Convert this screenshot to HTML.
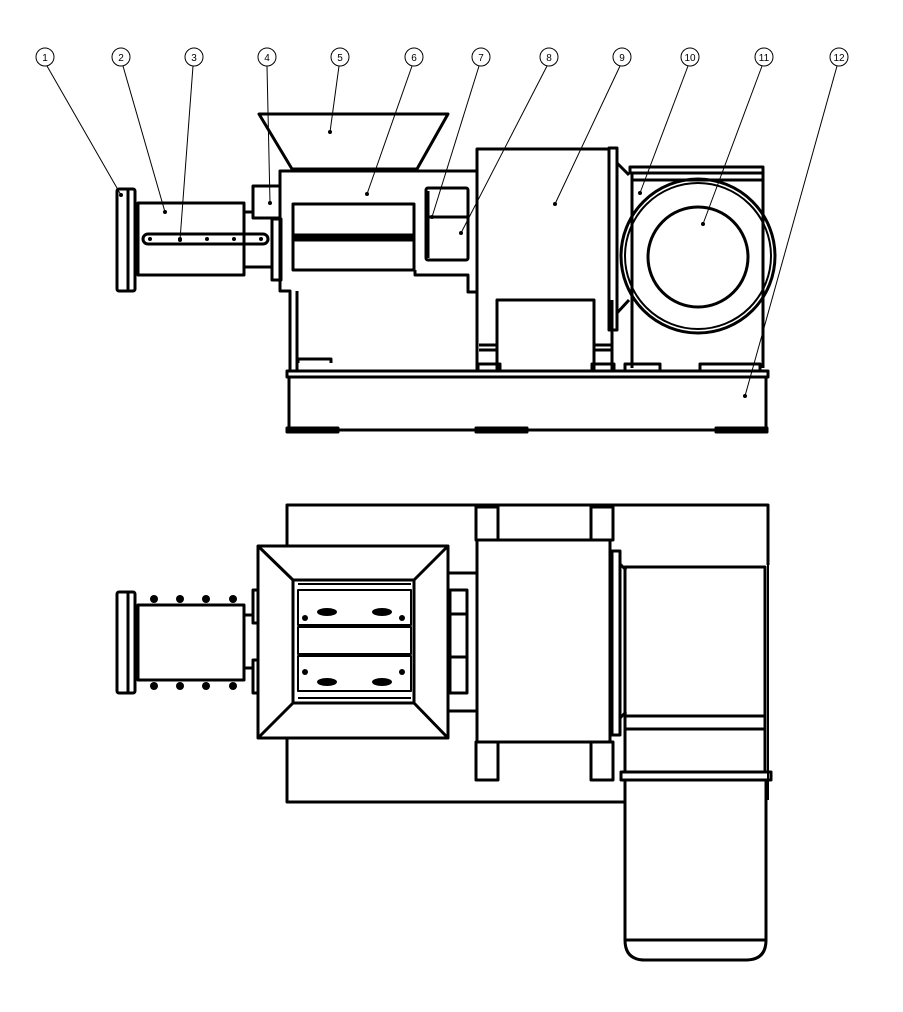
<!DOCTYPE html>
<html><head><meta charset="utf-8"><style>
html,body{margin:0;padding:0;background:#fff;}
svg{display:block;}
text{font-family:"Liberation Sans",sans-serif;font-size:10px;text-anchor:middle;}
</style></head><body>
<svg width="903" height="1012" viewBox="0 0 903 1012" xmlns="http://www.w3.org/2000/svg">
<rect width="903" height="1012" fill="#fff"/>
<g fill="none" stroke="#000" stroke-width="1">
<circle cx="45" cy="57" r="9"/><circle cx="121" cy="57" r="9"/><circle cx="194" cy="57" r="9"/>
<circle cx="267" cy="57" r="9"/><circle cx="340" cy="57" r="9"/><circle cx="414" cy="57" r="9"/>
<circle cx="481" cy="57" r="9"/><circle cx="549" cy="57" r="9"/><circle cx="622" cy="57" r="9"/>
<circle cx="690" cy="57" r="9"/><circle cx="764" cy="57" r="9"/><circle cx="839" cy="57" r="9"/>
<line x1="47" y1="66" x2="121" y2="195"/>
<line x1="123" y1="66" x2="165" y2="212"/>
<line x1="193" y1="66" x2="180" y2="240"/>
<line x1="267" y1="66" x2="270" y2="203"/>
<line x1="339" y1="66" x2="330" y2="132"/>
<line x1="412" y1="66" x2="367" y2="194"/>
<line x1="479" y1="66" x2="432" y2="217"/>
<line x1="547" y1="66" x2="461" y2="233"/>
<line x1="620" y1="66" x2="555" y2="204"/>
<line x1="688" y1="66" x2="640" y2="193"/>
<line x1="762" y1="66" x2="703" y2="224"/>
<line x1="837" y1="66" x2="745" y2="396"/>
</g>
<g fill="#000">
<text x="45" y="61">1</text><text x="121" y="61">2</text><text x="194" y="61">3</text>
<text x="267" y="61">4</text><text x="340" y="61">5</text><text x="414" y="61">6</text>
<text x="481" y="61">7</text><text x="549" y="61">8</text><text x="622" y="61">9</text>
<text x="690" y="61">10</text><text x="764" y="61">11</text><text x="839" y="61">12</text>
<circle cx="121" cy="195" r="2"/><circle cx="165" cy="212" r="2"/><circle cx="180" cy="240" r="2"/>
<circle cx="270" cy="203" r="2"/><circle cx="330" cy="132" r="2"/><circle cx="367" cy="194" r="2"/>
<circle cx="432" cy="217" r="2"/><circle cx="461" cy="233" r="2"/><circle cx="555" cy="204" r="2"/>
<circle cx="640" cy="193" r="2"/><circle cx="703" cy="224" r="2"/><circle cx="745" cy="396" r="2"/>
</g>
<g fill="none" stroke="#000" stroke-width="3" stroke-linejoin="round">
<!-- FRONT VIEW -->
<polygon points="259,114 448,114 417,169 292,169"/>
<path d="M477,171 H280 V291 H290 V371"/>
<line x1="297" y1="291" x2="297" y2="371"/>
<path d="M298,363 V359 H331 V363"/>
<rect x="293" y="204" width="121" height="66"/>
<rect x="293" y="235" width="121" height="5" fill="#000"/>
<path d="M415,270 V275 H468 V292 H477 V371"/>
<rect x="426" y="188" width="42" height="72" rx="2"/>
<line x1="428" y1="217" x2="468" y2="217"/>
<line x1="428" y1="191" x2="428" y2="258"/>
<rect x="253" y="186" width="27" height="32"/>
<rect x="272" y="219" width="9" height="61"/>
<line x1="244" y1="212" x2="253" y2="212"/>
<line x1="244" y1="267" x2="272" y2="267"/>
<rect x="138" y="203" width="106" height="72"/>
<rect x="117" y="189" width="18" height="102" rx="2"/>
<line x1="128" y1="190" x2="128" y2="290"/>
<rect x="143" y="234" width="125" height="10" rx="5"/>
<!-- motor 9 -->
<path d="M477,300 V149 H609 V300"/>
<rect x="609" y="148" width="8" height="182"/>
<rect x="497" y="300" width="97" height="71"/>
<line x1="479" y1="345" x2="497" y2="345"/><line x1="479" y1="350" x2="497" y2="350"/>
<line x1="594" y1="345" x2="612" y2="345"/><line x1="594" y1="350" x2="612" y2="350"/>
<line x1="612" y1="300" x2="612" y2="371"/>
<path d="M617,163 L629,175 M617,313 L629,300"/>
<!-- motor 10/11 -->
<rect x="630" y="167" width="133" height="6"/>
<path d="M632,173 V180 H763 V173"/>
<line x1="632" y1="180" x2="632" y2="368"/>
<line x1="763" y1="180" x2="763" y2="368"/>
<circle cx="698" cy="256" r="77"/>
<circle cx="698" cy="256" r="73" stroke-width="2"/>
<circle cx="698" cy="257" r="50"/>
<!-- base -->
<rect x="287" y="371" width="481" height="6"/>
<path d="M289,377 V430 H766 V377"/>
<rect x="287" y="428" width="51" height="4"/>
<rect x="476" y="428" width="51" height="4"/>
<rect x="716" y="428" width="51" height="4"/>
<rect x="478" y="364" width="22" height="7"/><rect x="592" y="364" width="22" height="7"/>
<rect x="625" y="364" width="35" height="7"/>
<rect x="700" y="364" width="60" height="7"/>

<!-- TOP VIEW -->
<path d="M287,546 V505 H768 V565"/>
<path d="M287,738 V802 H624"/>
<line x1="768" y1="565" x2="768" y2="800" stroke-width="2"/>
<rect x="258" y="546" width="190" height="192"/>
<rect x="293" y="580" width="121" height="123"/>
<line x1="258" y1="546" x2="293" y2="580"/><line x1="448" y1="546" x2="414" y2="580"/>
<line x1="258" y1="738" x2="293" y2="703"/><line x1="448" y1="738" x2="414" y2="703"/>
<rect x="298" y="590" width="113" height="35" stroke-width="2"/>
<rect x="298" y="656" width="113" height="35" stroke-width="2"/>
<rect x="298" y="627" width="113" height="27" stroke-width="2"/>
<line x1="298" y1="584" x2="411" y2="584" stroke-width="2"/>
<line x1="298" y1="698" x2="411" y2="698" stroke-width="2"/>
<rect x="138" y="605" width="106" height="75"/>
<rect x="117" y="592" width="18" height="101" rx="2"/>
<line x1="128" y1="593" x2="128" y2="692"/>
<line x1="244" y1="615" x2="253" y2="615"/><line x1="244" y1="668" x2="253" y2="668"/>
<rect x="253" y="590" width="5" height="33"/><rect x="253" y="660" width="5" height="33"/>
<path d="M448,573 H477 M448,711 H477"/>
<rect x="450" y="590" width="17" height="103"/>
<line x1="450" y1="614" x2="467" y2="614"/><line x1="450" y1="657" x2="467" y2="657"/>
<rect x="477" y="540" width="133" height="202"/>
<rect x="476" y="507" width="22" height="33"/><rect x="591" y="507" width="22" height="33"/>
<rect x="476" y="742" width="22" height="38"/><rect x="591" y="742" width="22" height="38"/>
<rect x="612" y="551" width="8" height="184"/>
<line x1="620" y1="564" x2="626" y2="570"/><line x1="620" y1="718" x2="626" y2="712"/>
<rect x="625" y="567" width="140" height="205"/>
<line x1="625" y1="716" x2="765" y2="716"/><line x1="625" y1="729" x2="765" y2="729"/>
<rect x="621" y="772" width="150" height="8"/>
<path d="M625,780 V940 Q625,960 645,960 H746 Q766,960 766,940 V780"/>
<line x1="625" y1="940" x2="766" y2="940"/>
</g>
<g fill="#000">
<ellipse cx="327" cy="612" rx="10" ry="4"/><ellipse cx="382" cy="612" rx="10" ry="4"/>
<ellipse cx="327" cy="682" rx="10" ry="4"/><ellipse cx="382" cy="682" rx="10" ry="4"/>
<circle cx="305" cy="618" r="3"/><circle cx="402" cy="618" r="3"/>
<circle cx="305" cy="672" r="3"/><circle cx="402" cy="672" r="3"/>
<circle cx="154" cy="599" r="4"/><circle cx="180" cy="599" r="4"/><circle cx="206" cy="599" r="4"/><circle cx="233" cy="599" r="4"/>
<circle cx="154" cy="686" r="4"/><circle cx="180" cy="686" r="4"/><circle cx="206" cy="686" r="4"/><circle cx="233" cy="686" r="4"/>
<circle cx="150" cy="239" r="2"/><circle cx="180" cy="239" r="2"/><circle cx="207" cy="239" r="2"/><circle cx="234" cy="239" r="2"/><circle cx="261" cy="239" r="2"/>
</g>
</svg>
</body></html>
